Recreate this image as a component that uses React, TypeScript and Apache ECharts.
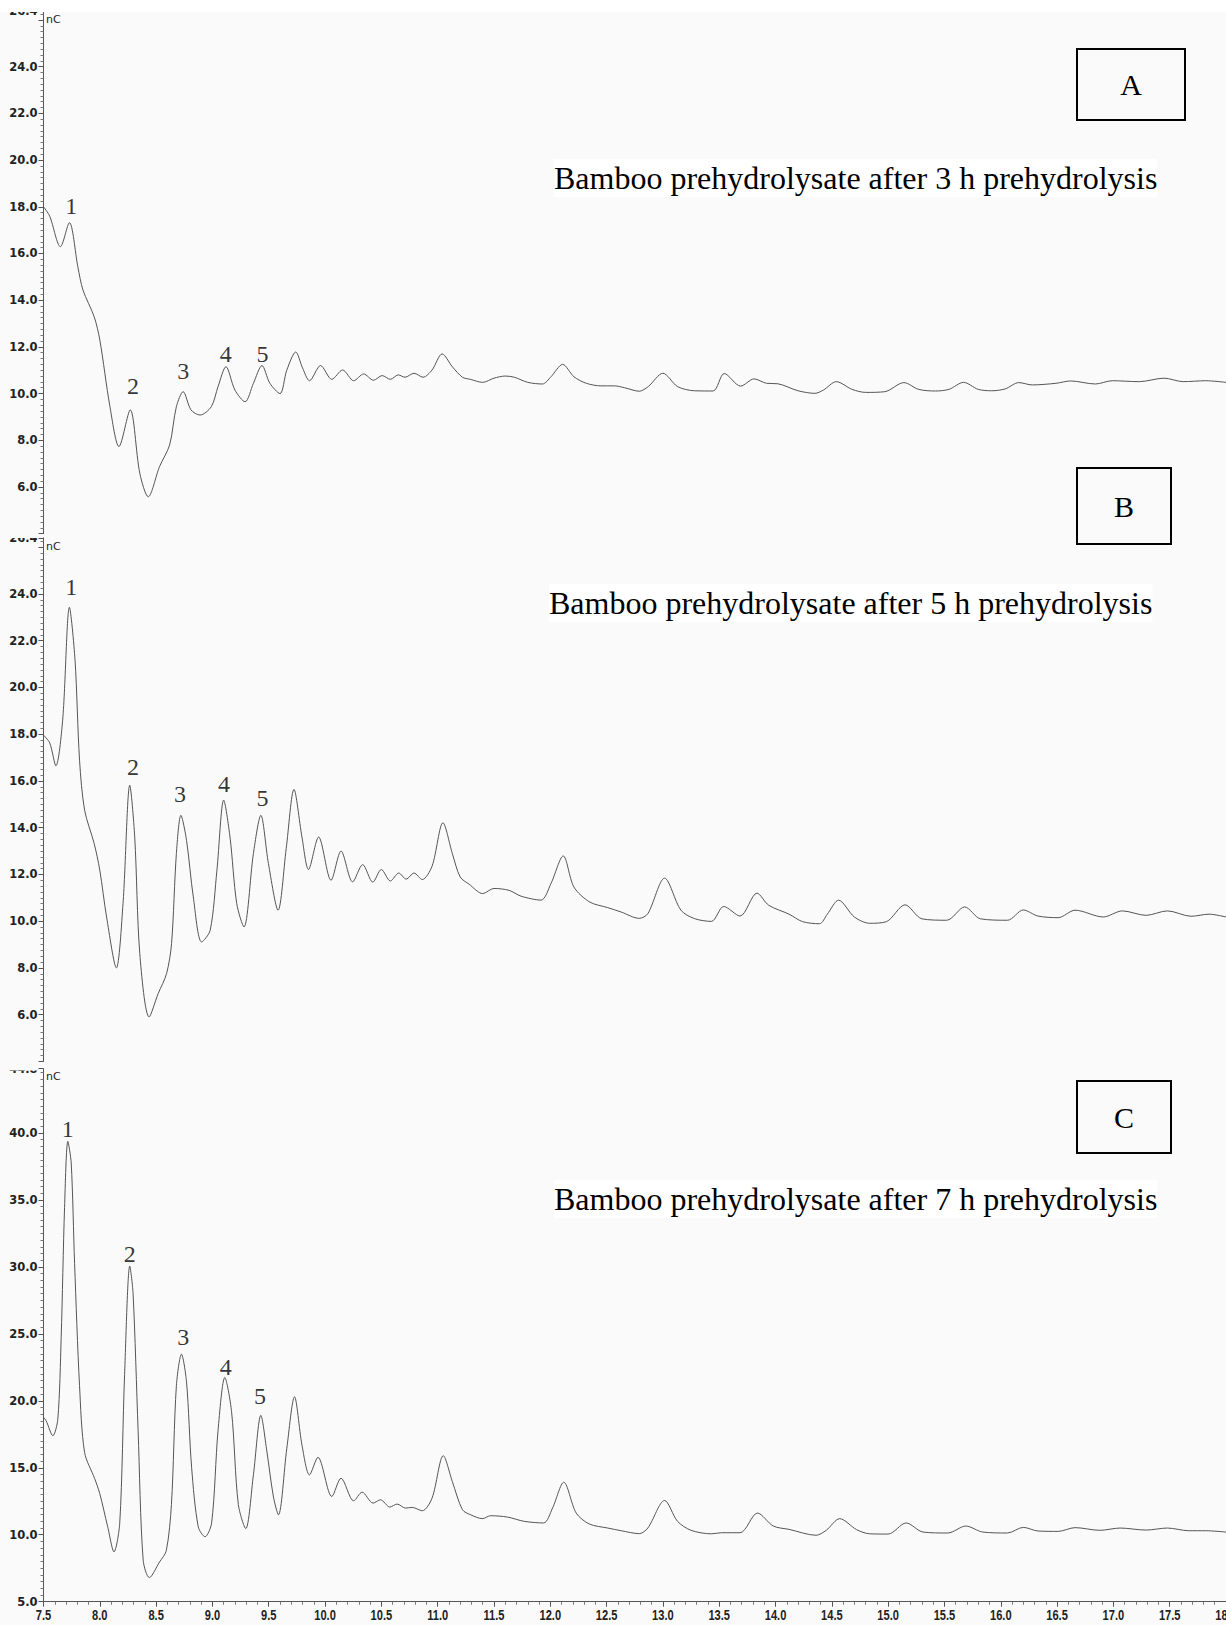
import React, { useEffect, useRef } from "react";
import * as echarts from "echarts";

// ---------- Data (retention time in min, signal in nC) ----------
const timesA = [7.5, 7.555, 7.65, 7.73, 7.805, 7.85, 7.95, 8.0, 8.09, 8.17, 8.27, 8.355, 8.43, 8.53, 8.62, 8.68, 8.74, 8.81, 8.89, 8.99, 9.05, 9.12, 9.2, 9.29, 9.364, 9.44, 9.51, 9.6, 9.66, 9.74, 9.8, 9.862, 9.96, 10.06, 10.156, 10.254, 10.343, 10.43, 10.507, 10.58, 10.65, 10.71, 10.79, 10.87, 10.95, 11.04, 11.13, 11.22, 11.29, 11.4, 11.5, 11.6, 11.68, 11.8, 11.93, 12.006, 12.11, 12.21, 12.32, 12.45, 12.57, 12.66, 12.79, 12.87, 13.0, 13.13, 13.28, 13.445, 13.545, 13.69, 13.81, 13.92, 14.02, 14.2, 14.35, 14.425, 14.54, 14.68, 14.8, 14.97, 15.14, 15.27, 15.42, 15.54, 15.67, 15.8, 15.92, 16.04, 16.16, 16.28, 16.49, 16.62, 16.84, 16.99, 17.23, 17.45, 17.62, 17.82, 18.0];
const valuesA = [18.0, 17.6, 16.29, 17.32, 15.43, 14.44, 13.29, 12.3, 9.44, 7.73, 9.3, 6.59, 5.58, 6.87, 7.8, 9.44, 10.08, 9.3, 9.08, 9.44, 10.3, 11.15, 10.15, 9.65, 10.44, 11.2, 10.44, 10.0, 11.0, 11.78, 11.1, 10.55, 11.2, 10.61, 11.01, 10.55, 10.84, 10.57, 10.77, 10.61, 10.8, 10.7, 10.87, 10.7, 11.01, 11.7, 11.15, 10.7, 10.61, 10.48, 10.66, 10.75, 10.7, 10.48, 10.41, 10.72, 11.25, 10.72, 10.44, 10.33, 10.33, 10.25, 10.1, 10.3, 10.87, 10.3, 10.12, 10.11, 10.86, 10.32, 10.63, 10.44, 10.42, 10.12, 10.01, 10.15, 10.51, 10.18, 10.05, 10.08, 10.47, 10.18, 10.11, 10.18, 10.48, 10.18, 10.12, 10.2, 10.47, 10.37, 10.44, 10.54, 10.41, 10.55, 10.51, 10.66, 10.51, 10.55, 10.48];

const timesB = [7.5, 7.555, 7.61, 7.67, 7.73, 7.78, 7.82, 7.865, 7.95, 8.0, 8.06, 8.147, 8.206, 8.266, 8.31, 8.355, 8.438, 8.518, 8.593, 8.637, 8.68, 8.72, 8.77, 8.83, 8.904, 8.98, 9.04, 9.1, 9.156, 9.216, 9.28, 9.364, 9.43, 9.497, 9.583, 9.655, 9.724, 9.795, 9.853, 9.943, 10.053, 10.142, 10.245, 10.334, 10.424, 10.5, 10.58, 10.655, 10.72, 10.79, 10.863, 10.95, 11.047, 11.13, 11.2, 11.28, 11.4, 11.5, 11.634, 11.74, 11.917, 12.006, 12.115, 12.21, 12.35, 12.51, 12.63, 12.79, 12.866, 13.015, 13.16, 13.28, 13.43, 13.54, 13.685, 13.835, 13.94, 14.12, 14.24, 14.39, 14.46, 14.56, 14.7, 14.836, 14.985, 15.15, 15.3, 15.52, 15.68, 15.82, 16.06, 16.2, 16.33, 16.51, 16.66, 16.91, 17.08, 17.29, 17.48, 17.69, 17.85, 18.0];
const valuesB = [17.96, 17.63, 16.65, 18.6, 23.43, 21.17, 16.89, 14.75, 13.32, 12.18, 10.18, 8.0, 10.75, 15.82, 13.6, 8.61, 5.9, 6.9, 7.76, 9.04, 12.9, 14.53, 13.46, 11.04, 9.11, 9.61, 12.18, 15.18, 13.6, 10.75, 9.75, 12.9, 14.53, 12.47, 10.47, 13.1, 15.64, 13.6, 12.21, 13.6, 11.75, 13.0, 11.68, 12.42, 11.67, 12.21, 11.72, 12.06, 11.8, 12.06, 11.78, 12.35, 14.21, 12.9, 11.89, 11.58, 11.18, 11.4, 11.32, 11.07, 10.9, 11.61, 12.79, 11.46, 10.82, 10.58, 10.39, 10.12, 10.32, 11.84, 10.47, 10.11, 9.99, 10.63, 10.22, 11.2, 10.68, 10.3, 9.98, 9.89, 10.3, 10.9, 10.18, 9.91, 9.98, 10.7, 10.1, 10.04, 10.61, 10.1, 10.04, 10.48, 10.22, 10.15, 10.47, 10.18, 10.44, 10.25, 10.44, 10.21, 10.3, 10.18];

const timesC = [7.5, 7.524, 7.583, 7.627, 7.657, 7.687, 7.716, 7.746, 7.776, 7.82, 7.865, 7.954, 7.999, 8.07, 8.126, 8.177, 8.22, 8.266, 8.295, 8.34, 8.385, 8.44, 8.53, 8.59, 8.636, 8.68, 8.725, 8.77, 8.815, 8.874, 8.934, 8.993, 9.05, 9.11, 9.17, 9.23, 9.296, 9.364, 9.43, 9.483, 9.542, 9.586, 9.66, 9.729, 9.795, 9.862, 9.937, 10.06, 10.142, 10.254, 10.329, 10.427, 10.492, 10.575, 10.64, 10.715, 10.774, 10.863, 10.95, 11.05, 11.13, 11.22, 11.293, 11.398, 11.47, 11.62, 11.768, 11.94, 12.02, 12.12, 12.23, 12.347, 12.51, 12.63, 12.79, 12.866, 13.015, 13.13, 13.25, 13.43, 13.52, 13.685, 13.84, 13.98, 14.12, 14.36, 14.45, 14.57, 14.72, 14.836, 15.0, 15.16, 15.31, 15.53, 15.69, 15.84, 16.06, 16.2, 16.33, 16.51, 16.66, 16.88, 17.06, 17.29, 17.48, 17.67, 17.82, 18.0];
const valuesC = [18.77, 18.5, 17.39, 18.63, 24.73, 34.44, 39.37, 37.76, 30.27, 21.13, 16.14, 14.2, 13.09, 10.6, 8.72, 10.88, 21.96, 30.06, 28.06, 17.8, 8.1, 6.8, 7.96, 8.8, 12.26, 21.13, 23.48, 21.4, 15.04, 10.6, 9.85, 10.88, 17.8, 21.74, 19.19, 12.26, 10.46, 14.48, 18.92, 16.25, 12.82, 11.49, 16.42, 20.3, 16.7, 14.47, 15.78, 12.86, 14.22, 12.53, 13.18, 12.36, 12.61, 12.07, 12.29, 11.99, 12.04, 11.79, 12.73, 15.9, 13.98, 11.87, 11.49, 11.2, 11.42, 11.32, 11.0, 10.88, 11.99, 13.92, 11.62, 10.8, 10.5, 10.3, 10.08, 10.5, 12.56, 11.0, 10.33, 10.07, 10.15, 10.15, 11.62, 10.65, 10.4, 9.96, 10.33, 11.2, 10.38, 10.07, 10.05, 10.88, 10.2, 10.13, 10.65, 10.2, 10.13, 10.55, 10.28, 10.25, 10.53, 10.33, 10.5, 10.35, 10.5, 10.3, 10.3, 10.2];

// Peak number labels (placed in data coordinates)
const peakNames = ["1", "2", "3", "4", "5"];
const peakLabelTimesA = [7.747, 8.295, 8.74, 9.118, 9.444];
const peakLabelValuesA = [18.05, 10.33, 10.98, 11.71, 11.71];
const peakLabelTimesB = [7.747, 8.295, 8.711, 9.103, 9.444];
const peakLabelValuesB = [24.31, 16.61, 15.44, 15.87, 15.26];
const peakLabelTimesC = [7.716, 8.266, 8.74, 9.118, 9.423];
const peakLabelValuesC = [40.26, 30.93, 24.79, 22.56, 20.34];

const panelLetters = ["A", "B", "C"];
const panelTitles = [
  "Bamboo prehydrolysate after 3 h prehydrolysis",
  "Bamboo prehydrolysate after 5 h prehydrolysis",
  "Bamboo prehydrolysate after 7 h prehydrolysis",
];

// Axis ranges and tick labels
const xMin = 7.5;
const xMax = 18;
const xInterval = 0.5;
const xTickLabels = ["7.5", "8.0", "8.5", "9.0", "9.5", "10.0", "10.5", "11.0", "11.5", "12.0", "12.5", "13.0", "13.5", "14.0", "14.5", "15.0", "15.5", "16.0", "16.5", "17.0", "17.5", "18.0"];
const yRangeAB = { min: 4, max: 26.4, interval: 2, labelLow: 6, labelHigh: 24 };
const yRangeC = { min: 5, max: 44.8, interval: 5, labelLow: 5, labelHigh: 40 };

const BG = "#fafafa";
const LINE = "#555";

const zip = (t: number[], v: number[]) => t.map((x, i) => [x, v[i]]);

export default function App() {
  const ref = useRef<HTMLDivElement>(null);

  useEffect(() => {
    document.body.style.margin = "0";
    const chart = echarts.init(ref.current!, null, { renderer: "svg" });

    const grids = [
      { left: 43.5, top: 10.66, width: 1184, height: 523 },
      { left: 43.5, top: 537.9, width: 1184, height: 523.5 },
      { left: 43.5, top: 1068.7, width: 1184, height: 533 },
    ];

    const yAxisFor = (idx: number, r: typeof yRangeAB, minorSplit: number) => ({
      type: "value",
      gridIndex: idx,
      min: r.min,
      max: r.max,
      interval: r.interval,
      axisLine: { show: true, lineStyle: { color: LINE, width: 1 } },
      axisTick: { show: true, length: 5, lineStyle: { color: LINE } },
      minorTick: { show: true, splitNumber: minorSplit, length: 3, lineStyle: { color: "#777" } },
      splitLine: { show: false },
      minorSplitLine: { show: false },
      axisLabel: {
        margin: 6,
        fontFamily: "DejaVu Sans",
        fontWeight: "bold",
        fontSize: 11.5,
        color: "#222",
        formatter: (v: number) => {
          if (Math.abs(v - r.max) < 1e-6) return v.toFixed(1);
          if (v >= r.labelLow - 1e-6 && v <= r.labelHigh + 1e-6) return v.toFixed(1);
          return "";
        },
      },
    });

    const xAxisFor = (idx: number, show: boolean) => ({
      type: "value",
      gridIndex: idx,
      min: xMin,
      max: xMax,
      interval: xInterval,
      show,
      axisLine: { show: true, onZero: false, lineStyle: { color: LINE, width: 1 } },
      axisTick: { show: true, length: 5, lineStyle: { color: LINE } },
      minorTick: { show: true, splitNumber: 5, length: 3, lineStyle: { color: "#777" } },
      splitLine: { show: false },
      axisLabel: { show: false },
    });

    const lineSeries = (idx: number, t: number[], v: number[]) => ({
      type: "line",
      xAxisIndex: idx,
      yAxisIndex: idx,
      data: zip(t, v),
      showSymbol: false,
      smooth: 0.3,
      lineStyle: { color: LINE, width: 1 },
      silent: true,
    });

    const labelSeries = (idx: number, t: number[], v: number[]) => ({
      type: "scatter",
      xAxisIndex: idx,
      yAxisIndex: idx,
      symbolSize: 1,
      itemStyle: { color: "rgba(0,0,0,0)" },
      data: t.map((x, i) => ({ name: peakNames[i], value: [x, v[i]] })),
      label: {
        show: true,
        position: "inside",
        formatter: (p: any) => p.name,
        fontFamily: "Liberation Serif",
        fontSize: 24,
        color: "#000",
      },
      silent: true,
      z: 5,
    });

    const titleY = [178, 603, 1199];
    const titleX = [554, 549, 554];
    const boxes = [
      { x: 1077, y: 49, w: 108, h: 71 },
      { x: 1077, y: 468, w: 94, h: 76 },
      { x: 1077, y: 1081, w: 94, h: 72 },
    ];
    const nCY = [19, 546.7, 1076];

    const graphic: any[] = [
      { type: "rect", z: 100, shape: { x: 0, y: 0, width: 1226, height: 12 }, style: { fill: "#fff" } },
      { type: "rect", z: 100, shape: { x: 0, y: 526, width: 37, height: 12 }, style: { fill: BG } },
      { type: "rect", z: 100, shape: { x: 0, y: 1055, width: 37, height: 15.5 }, style: { fill: BG } },
    ];
    for (let i = 0; i < 3; i++) {
      graphic.push({
        type: "text",
        z: 100,
        x: 46,
        y: nCY[i],
        style: { text: "nC", fontFamily: "DejaVu Sans", fontSize: 11, fill: "#222", verticalAlign: "middle" },
      });
      graphic.push({
        type: "text",
        z: 100,
        x: titleX[i],
        y: titleY[i],
        style: {
          text: panelTitles[i],
          fontFamily: "Liberation Serif",
          fontSize: 32,
          fill: "#000",
          verticalAlign: "middle",
          backgroundColor: "#fff",
          padding: [3, 0, 3, 0],
        },
      });
      const b = boxes[i];
      graphic.push({
        type: "rect",
        z: 100,
        shape: { x: b.x, y: b.y, width: b.w, height: b.h },
        style: { fill: "none", stroke: "#000", lineWidth: 2 },
      });
      graphic.push({
        type: "text",
        z: 100,
        x: b.x + b.w / 2,
        y: b.y + b.h / 2,
        style: {
          text: panelLetters[i],
          fontFamily: "Liberation Serif",
          fontSize: 30,
          fill: "#000",
          align: "center",
          verticalAlign: "middle",
        },
      });
    }

    chart.setOption({
      animation: false,
      backgroundColor: BG,
      grid: grids,
      xAxis: [xAxisFor(0, false), xAxisFor(1, false), xAxisFor(2, true)],
      yAxis: [yAxisFor(0, yRangeAB, 8), yAxisFor(1, yRangeAB, 8), yAxisFor(2, yRangeC, 10)],
      series: [
        lineSeries(0, timesA, valuesA),
        lineSeries(1, timesB, valuesB),
        lineSeries(2, timesC, valuesC),
        labelSeries(0, peakLabelTimesA, peakLabelValuesA),
        labelSeries(1, peakLabelTimesB, peakLabelValuesB),
        labelSeries(2, peakLabelTimesC, peakLabelValuesC),
      ],
      graphic,
    });

    // Condensed x-axis tick labels, positioned through the axis scale
    const axisY = chart.convertToPixel({ yAxisIndex: 2 }, yRangeC.min) as number;
    const xLabelEls = xTickLabels.map((s) => ({
      type: "text",
      z: 100,
      x: chart.convertToPixel({ xAxisIndex: 2 }, parseFloat(s)) as number,
      y: axisY + 13,
      scaleX: 0.74,
      style: {
        text: s,
        fontFamily: "Liberation Sans",
        fontWeight: "bold",
        fontSize: 15,
        fill: "#222",
        align: "center",
        verticalAlign: "middle",
      },
    }));
    chart.setOption({ graphic: [...graphic, ...xLabelEls] });

    return () => chart.dispose();
  }, []);

  return <div ref={ref} style={{ width: 1226, height: 1625 }} />;
}
